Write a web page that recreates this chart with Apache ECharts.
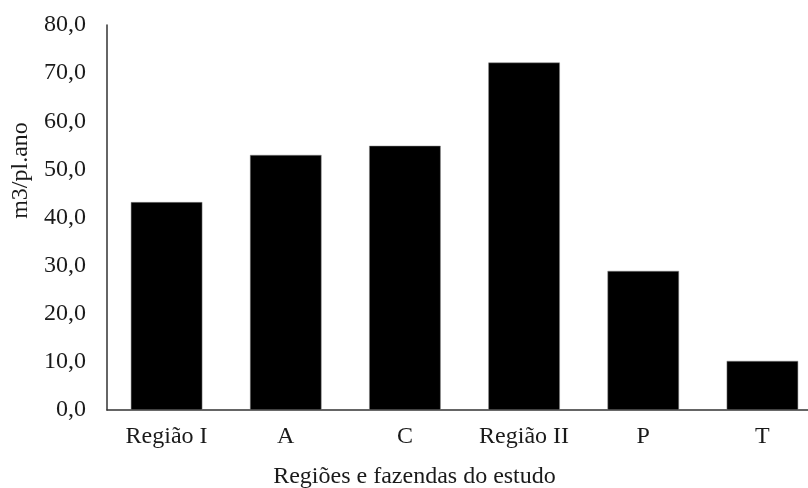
<!DOCTYPE html>
<html><head><meta charset="utf-8">
<script src="https://cdn.jsdelivr.net/npm/echarts@6/dist/echarts.min.js"></script>
<style>html,body{margin:0;padding:0;background:#fff}#c{width:808px;height:488px}</style>
</head><body><div id="c"></div>
<script>
const categories = ["Região I", "A", "C", "Região II", "P", "T"];
const values = [43.2, 53.0, 54.9, 72.2, 28.9, 10.2];
const yTicks = [0, 10, 20, 30, 40, 50, 60, 70, 80];
const xTitle = "Regiões e fazendas do estudo";
const yTitle = "m3/pl.ano";
const font = "Liberation Serif";
const chart = echarts.init(document.getElementById('c'), null, {renderer: 'canvas'});
chart.setOption({
  animation: false,
  grid: {left: 107, top: 25, right: -14, bottom: 78, containLabel: false, outerBoundsMode: 'none'},
  xAxis: {
    type: 'category', data: categories,
    axisLine: {show: true, lineStyle: {color: '#333', width: 1.5}},
    axisTick: {show: false},
    axisLabel: {color: '#1a1a1a', fontFamily: font, fontSize: 24, margin: 15, interval: 0, hideOverlap: false},
    name: xTitle, nameLocation: 'middle', nameGap: 55,
    nameTextStyle: {color: '#1a1a1a', fontFamily: font, fontSize: 24, padding: [0, 100, 0, 0]}
  },
  yAxis: {
    type: 'value', min: yTicks[0], max: yTicks[yTicks.length - 1], interval: 10,
    axisLine: {show: true, lineStyle: {color: '#333', width: 1.5}},
    axisTick: {show: false},
    splitLine: {show: false},
    axisLabel: {color: '#1a1a1a', fontFamily: font, fontSize: 24, margin: 21,
      formatter: v => v.toFixed(1).replace('.', ',')},
    name: yTitle, nameLocation: 'middle', nameGap: 67, nameRotate: 90,
    nameTextStyle: {color: '#1a1a1a', fontFamily: font, fontSize: 24, padding: [0, 0, 0, 94]}
  },
  series: [{
    type: 'bar', data: values, barCategoryGap: '40%',
    itemStyle: {color: '#000', borderColor: '#888', borderWidth: 0.5}
  }]
});
</script></body></html>
